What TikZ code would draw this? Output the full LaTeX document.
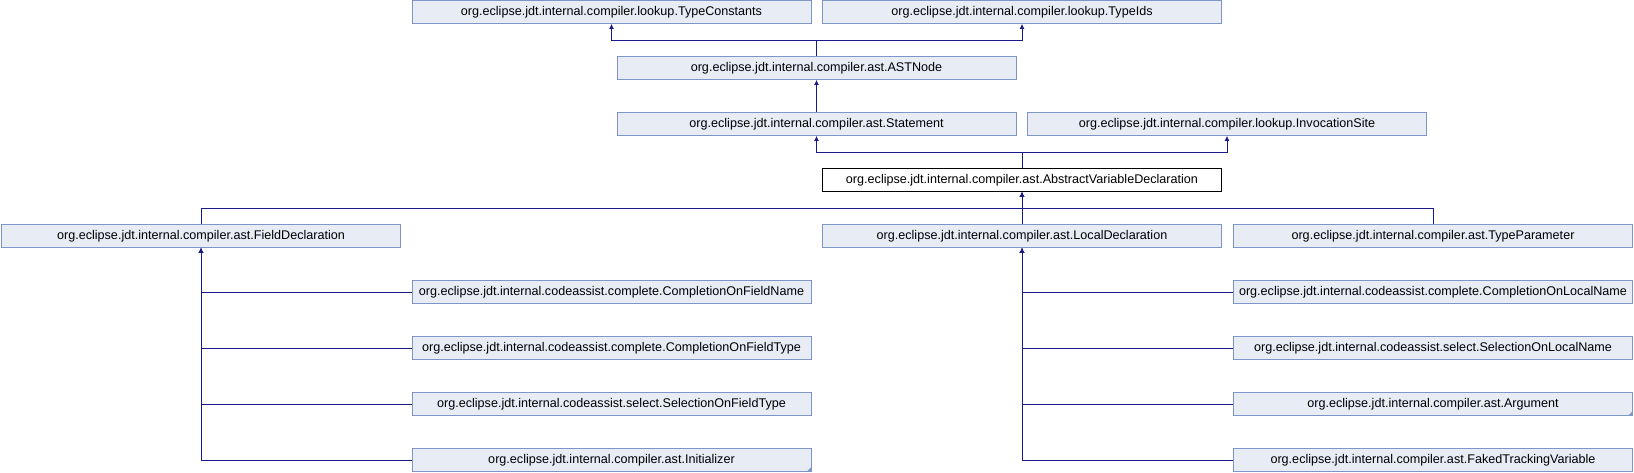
\documentclass[tikz,border=0pt]{standalone}
\usepackage{fontspec}
\setmainfont{Liberation Sans}
\usetikzlibrary{arrows.meta}
\definecolor{boxfill}{HTML}{E8ECF5}
\definecolor{boxline}{HTML}{7F95C9}
\definecolor{edge}{HTML}{1A1A8A}

\begin{document}
\begin{tikzpicture}[x=1pt, y=-1pt, >={Latex[length=5pt,width=5pt]},
    cls/.style={draw=boxline, fill=boxfill, line width=0.8pt, minimum width=399pt,
      minimum height=23pt, inner sep=0pt, font=\fontsize{12.6}{14}\selectfont},
    cur/.style={cls, draw=black, fill=white},
    inh/.style={<-, draw=edge, line width=0.9pt}]
  \useasboundingbox (0,0) rectangle (1634,472);
  % bus heights between the rows
  \coordinate (busA) at (0,40);
  \coordinate (busB) at (0,152);
  \coordinate (busC) at (0,208);
  % parents
  \node[cls] (tconst) at (611.5,12) {org.eclipse.jdt.internal.compiler.lookup.TypeConstants};
  \node[cls] (tids) at (1022,12) {org.eclipse.jdt.internal.compiler.lookup.TypeIds};
  \node[cls] (astnode) at (816.5,68) {org.eclipse.jdt.internal.compiler.ast.ASTNode};
  \node[cls] (stmt) at (816.5,124) {org.eclipse.jdt.internal.compiler.ast.Statement};
  \node[cls] (invsite) at (1227,124) {org.eclipse.jdt.internal.compiler.lookup.InvocationSite};
  \node[cur] (avd) at (1022,180) {org.eclipse.jdt.internal.compiler.ast.AbstractVariableDeclaration};
  % direct subclasses
  \node[cls] (fielddecl) at (201,236) {org.eclipse.jdt.internal.compiler.ast.FieldDeclaration};
  \node[cls] (localdecl) at (1022,236) {org.eclipse.jdt.internal.compiler.ast.LocalDeclaration};
  \node[cls] (typeparam) at (1433,236) {org.eclipse.jdt.internal.compiler.ast.TypeParameter};
  % FieldDeclaration subclasses
  \node[cls] (cofname) at (611.5,292) {org.eclipse.jdt.internal.codeassist.complete.CompletionOnFieldName};
  \node[cls] (coftype) at (611.5,348) {org.eclipse.jdt.internal.codeassist.complete.CompletionOnFieldType};
  \node[cls] (softype) at (611.5,404) {org.eclipse.jdt.internal.codeassist.select.SelectionOnFieldType};
  \node[cls] (initzr) at (611.5,460) {org.eclipse.jdt.internal.compiler.ast.Initializer};
  % LocalDeclaration subclasses
  \node[cls] (colname) at (1433,292) {org.eclipse.jdt.internal.codeassist.complete.CompletionOnLocalName};
  \node[cls] (solname) at (1433,348) {org.eclipse.jdt.internal.codeassist.select.SelectionOnLocalName};
  \node[cls] (argument) at (1433,404) {org.eclipse.jdt.internal.compiler.ast.Argument};
  \node[cls] (faked) at (1433,460) {org.eclipse.jdt.internal.compiler.ast.FakedTrackingVariable};
  % truncated boxes
  \foreach \c in {initzr, argument}
    \fill[boxline] (\c.south east) -- ++(-5,0) -- ++(5,-5) -- cycle;
  % inheritance edges
  \foreach \p in {tconst, tids}
    \draw[inh] (\p.south) -- (\p.south |- busA) -| (astnode.north);
  \draw[inh] (astnode.south) -- (stmt.north);
  \foreach \p in {stmt, invsite}
    \draw[inh] (\p.south) -- (\p.south |- busB) -| (avd.north);
  \foreach \c in {fielddecl, localdecl, typeparam}
    \draw[inh] (avd.south) -- (avd.south |- busC) -| (\c.north);
  \foreach \c in {cofname, coftype, softype, initzr}
    \draw[inh] (fielddecl.south) |- (\c.west);
  \foreach \c in {colname, solname, argument, faked}
    \draw[inh] (localdecl.south) |- (\c.west);
\end{tikzpicture}
\end{document}
